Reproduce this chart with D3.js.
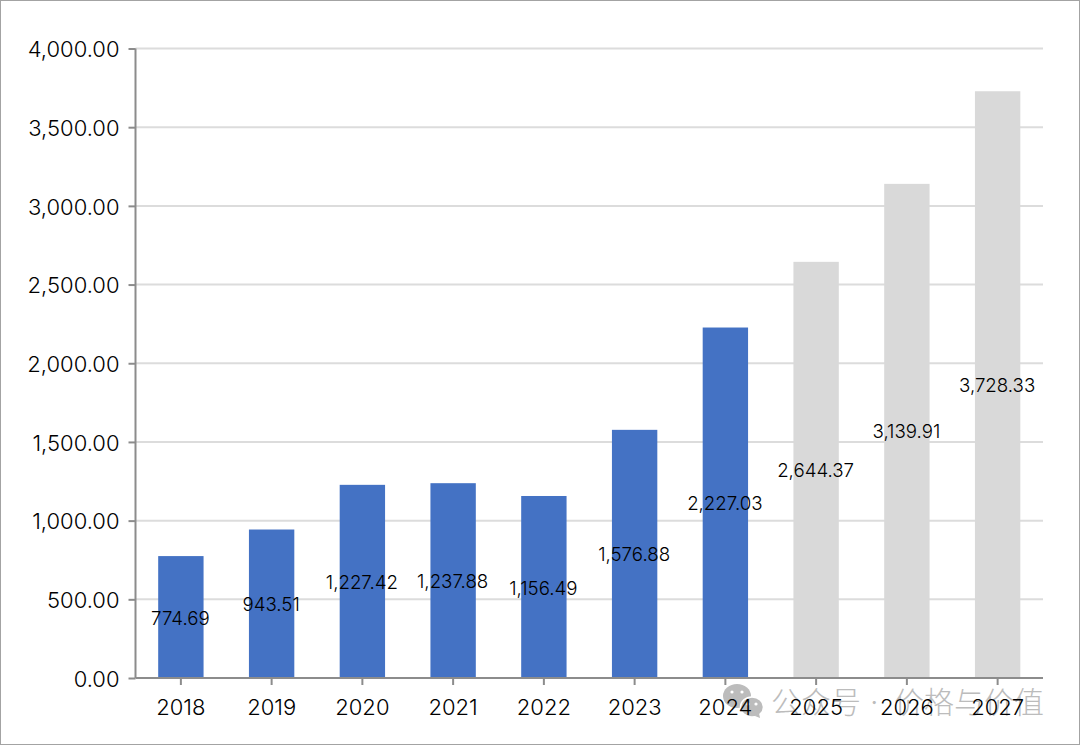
<!DOCTYPE html>
<html><head><meta charset="utf-8">
<script src="https://cdn.jsdelivr.net/npm/d3@7/dist/d3.min.js"></script>
<style>html,body{margin:0;padding:0;background:#fff}svg{display:block}text{font-family:Inter,"Noto Sans CJK SC",sans-serif}</style>
</head><body><svg id="c" width="1080" height="745"></svg>
<script>
const years=["2018","2019","2020","2021","2022","2023","2024","2025","2026","2027"];
const values=[774.69,943.51,1227.42,1237.88,1156.49,1576.88,2227.03,2644.37,3139.91,3728.33];
const forecastYears=["2025","2026","2027"];
const yTicks=[0,500,1000,1500,2000,2500,3000,3500,4000];
const watermarkParts=["公众号","·","价格与价值"];
const svg=d3.select("#c");
const fmt=d3.format(",.2f");
const x=d3.scaleBand().domain(years).range([135.5,1043]).paddingInner(0.5).paddingOuter(0.25);
const y=d3.scaleLinear().domain([0,4000]).range([678,48.5]);
svg.append("rect").attr("x",.5).attr("y",.5).attr("width",1079).attr("height",744).attr("fill","#fff").attr("stroke","#a3a3a3");
svg.append("g").selectAll("line").data(yTicks.filter(d=>d>0)).join("line")
 .attr("x1",135.5).attr("x2",1043).attr("y1",d=>y(d)).attr("y2",d=>y(d)).attr("stroke","#dcdcdc").attr("stroke-width",2);
svg.append("g").selectAll("rect").data(years).join("rect")
 .attr("x",d=>x(d)).attr("width",x.bandwidth()).attr("y",(d,i)=>y(values[i])).attr("height",(d,i)=>y(0)-y(values[i]))
 .attr("fill",d=>forecastYears.includes(d)?"#d9d9d9":"#4472c4");
const yAxis=svg.append("g").attr("transform","translate(135.5,0)").call(d3.axisLeft(y).tickValues(yTicks).tickFormat(fmt).tickSize(7).tickPadding(9));
yAxis.selectAll("text").attr("font-size",22).attr("font-weight",300).attr("dy","0.37em").attr("fill","#000");
const xAxis=svg.append("g").attr("transform","translate(0,678)").call(d3.axisBottom(x).tickSize(7).tickPadding(14));
xAxis.selectAll("text").attr("font-size",22).attr("font-weight",300).attr("fill","#000");
[yAxis,xAxis].forEach(a=>{a.selectAll("path,line").attr("stroke","#8c8c8c").attr("stroke-width",2);});
xAxis.select(".domain").attr("d","M135.5,0H1043");
yAxis.select(".domain").attr("d","M0,48.5V678");
const wm=svg.append("g").attr("fill","#bcbcbc");
wm.append("ellipse").attr("cx",737).attr("cy",696).attr("rx",14).attr("ry",12);
wm.append("ellipse").attr("cx",752).attr("cy",707).attr("rx",11.5).attr("ry",10).attr("stroke","#fff").attr("stroke-width",1.5);
wm.append("path").attr("d","M755,716l5,2l-1,-5z");
wm.selectAll("circle").data([[732,692],[742,692],[748,704],[756,704]]).join("circle")
 .attr("cx",d=>d[0]).attr("cy",d=>d[1]).attr("r",1.6).attr("fill","#fff");
wm.selectAll("text").data(watermarkParts).join("text")
 .attr("x",(d,i)=>[771,870,894][i]).attr("y",713).attr("font-size",30).attr("font-weight",300)
 .attr("font-family","Noto Sans CJK SC").text(d=>d);
svg.append("g").selectAll("text").data(years).join("text")
 .attr("x",d=>x(d)+x.bandwidth()/2-0.5).attr("y",(d,i)=>(y(0)+y(values[i]))/2+1).attr("dy","0.35em").attr("text-anchor","middle")
 .attr("font-size",18.7).attr("font-weight",300).attr("fill","#000").text((d,i)=>fmt(values[i]));
xAxis.raise();
</script></body></html>
